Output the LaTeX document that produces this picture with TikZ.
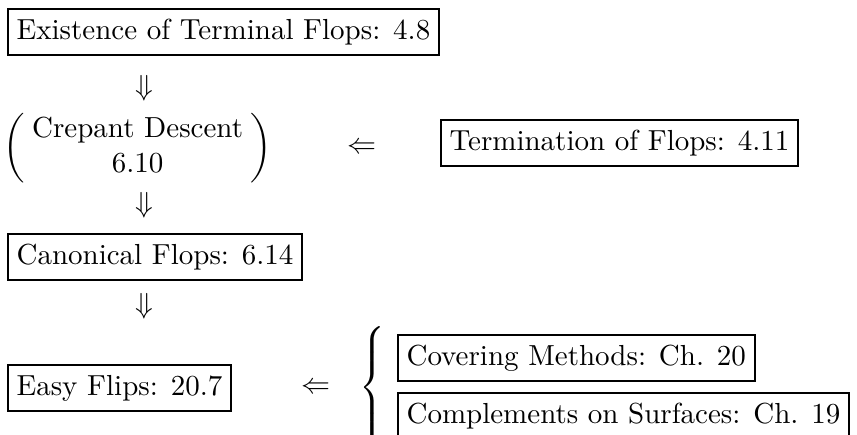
\documentclass[tikz,border=0pt]{standalone}
\usepackage{amsmath}
\begin{document}
\begin{tikzpicture}[x=0.3448pt,y=-0.3448pt,
  box/.style={draw, line width=0.6pt, inner xsep=3pt, inner ysep=3.4pt,
    text height=6.94pt, text depth=1.94pt},
  sym/.style={inner sep=0pt}]
\useasboundingbox (0,0) rectangle (857,434);
\clip (0,0) rectangle (857,434);
\node[box, anchor=west] (top) at (7,32) {Existence of Terminal Flops: 4.8};
\node[sym] (d1) at (144,88) {$\Downarrow$};
\node[sym, anchor=west] (crep) at (3,148)
  {$\left(\begin{tabular}{@{\hspace{2.5pt}}c@{\hspace{2.5pt}}}Crepant Descent\\6.10\end{tabular}\right)$};
\node[sym] (l1) at (362,148) {$\Leftarrow$};
\node[box, anchor=west] (term) at (440,143) {Termination of Flops: 4.11};
\node[sym] (d2) at (144,205) {$\Downarrow$};
\node[box, anchor=west] (canon) at (7,257) {Canonical Flops: 6.14};
\node[sym] (d3) at (144,306) {$\Downarrow$};
\node[box, anchor=west] (easy) at (7,388) {Easy Flips: 20.7};
\node[sym] (l2) at (316,388) {$\Leftarrow$};
\node[sym] (brace) at (374,388) {$\left\{\rule[-19pt]{0pt}{38pt}\right.$};
\node[box, anchor=west] (cov) at (397,358) {Covering Methods: Ch. 20};
\node[box, anchor=west] (comp) at (397,416) {Complements on Surfaces: Ch. 19};
\end{tikzpicture}
\end{document}
